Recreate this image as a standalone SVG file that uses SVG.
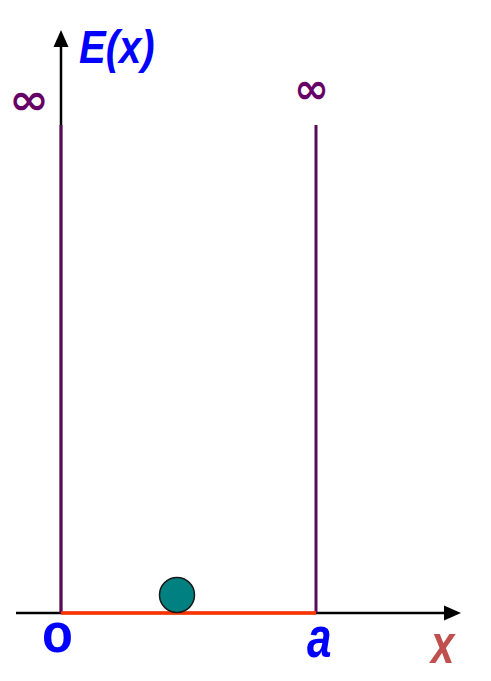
<svg xmlns="http://www.w3.org/2000/svg" width="491" height="681" viewBox="0 0 491 681">
<style>
.axis{stroke:#000;stroke-width:2.5;fill:none}
.wall{stroke:#5a0a5a;stroke-width:3;fill:none}
.inf{font-family:"DejaVu Sans",sans-serif;font-weight:bold;font-size:40px;fill:#660066}
.lbl{font-family:"Liberation Sans",Arial,sans-serif;font-weight:bold;fill:#0000ff}
</style>
<rect width="491" height="681" fill="#fff"/>
<g id="axes">
<line class="axis" x1="16" y1="613" x2="447" y2="613"/>
<polygon points="461,613 444,605.5 444,620.5" fill="#000"/>
<line class="axis" x1="61" y1="613" x2="61" y2="45"/>
<polygon points="61,30 53.5,47 68.5,47" fill="#000"/>
</g>
<g id="connectors">
<line class="wall" x1="61" y1="125" x2="61" y2="613"/>
<line class="wall" x1="316" y1="125" x2="316" y2="613"/>
<line x1="61" y1="613" x2="316" y2="613" stroke="#ff3300" stroke-width="3.5"/>
</g>
<g id="ball"><circle cx="177" cy="595" r="17.5" fill="#008080" stroke="#1a1a1a" stroke-width="1.5"/></g>
<g id="labels">
<text class="lbl" font-style="italic" font-size="40" transform="translate(79,63) scale(1,1.15)">E(x)</text>
<text class="inf" transform="translate(9,114) scale(1.2,1.05)">∞</text>
<text class="inf" transform="translate(294,103) scale(1.05,1.05)">∞</text>
<text class="lbl" font-size="55" transform="translate(42,652) scale(0.92,1)">o</text>
<text class="lbl" font-style="italic" font-size="58" transform="translate(307,657) scale(0.76,1)">a</text>
<text font-family="Liberation Sans,Arial,sans-serif" font-weight="bold" font-style="italic" font-size="56" fill="#c0504d" transform="translate(431,663) scale(0.75,1)">x</text>
</g>
</svg>
